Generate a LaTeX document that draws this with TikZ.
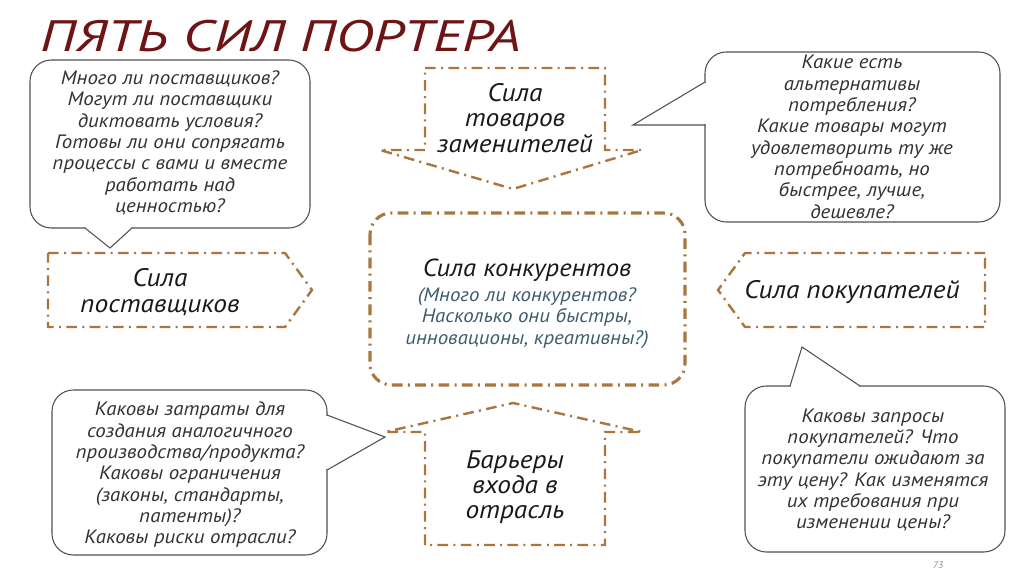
\documentclass[tikz,border=0pt]{standalone}
\usepackage{fontspec}
\setmainfont{PT Sans}
\newfontfamily\bodyfont{PT Sans}[FakeStretch=1.08]
\newfontfamily\titlefont{PT Sans}[FakeStretch=1.3]
\definecolor{dashbrown}{RGB}{168,118,62}
\definecolor{bubgray}{RGB}{80,80,80}
\definecolor{txtgray}{RGB}{50,50,50}
\definecolor{titlered}{RGB}{110,20,20}
\definecolor{subteal}{RGB}{60,92,108}
\tikzset{
  x=0.75pt, y=-0.75pt,
  bubble/.style={draw=bubgray, line width=0.8pt, fill=white, rounded corners=16pt},
  pointer/.style={draw=bubgray, line width=0.8pt},
  forcebox/.style={draw=dashbrown, line width=1.8pt, dash pattern=on 8pt off 4pt on 1.5pt off 4pt, fill=white},
  bubtext/.style={align=center, text=txtgray, font=\bodyfont\fontsize{14.5}{16}\selectfont\itshape},
  forcetext/.style={align=center, text=black!90, font=\bodyfont\fontsize{19}{19}\selectfont\itshape},
}
\begin{document}
\begin{tikzpicture}
\useasboundingbox (0,0) rectangle (1024,574);
% title
\node[anchor=base west, text=titlered, font=\titlefont\fontsize{33}{36}\selectfont\itshape] (title) at (36,52) {ПЯТЬ СИЛ ПОРТЕРА};

% top-left bubble
\draw[bubble] (30,60) rectangle (310,228);
\fill[white] (86,226) rectangle (131,230);
\draw[pointer] (85,228) -- (110,248) -- (132,228);
\node[bubtext] (b1) at (170,143) {Много ли поставщиков?\\Могут ли поставщики\\диктовать условия?\\Готовы ли они сопрягать\\процессы с вами и вместе\\работать над\\ценностью?};

% top-right bubble
\draw[bubble] (705,52) rectangle (1000,222);
\fill[white] (703,83) rectangle (707,124.4);
\draw[pointer] (705,82) -- (633,125) -- (705,125);
\node[bubtext] (b2) at (852,137) {Какие есть\\альтернативы\\потребления?\\Какие товары могут\\удовлетворить ту же\\потребноать, но\\быстрее, лучше,\\дешевле?};

% bottom-left bubble
\draw[bubble] (52,390) rectangle (327,555);
\fill[white] (325,416) rectangle (329,469);
\draw[pointer] (327,415) -- (385,437) -- (327,470);
\node[bubtext] (b3) at (190,475) {Каковы затраты для\\создания аналогичного\\производства/продукта?\\Каковы ограничения\\(законы, стандарты,\\патенты)?\\Каковы риски отрасли?};

% bottom-right bubble
\draw[bubble] (745,386) rectangle (1005,552);
\fill[white] (791,384) rectangle (859,388);
\draw[pointer] (790,386) -- (802,347) -- (860,386);
\node[bubtext] (b4) at (873,470) {Каковы запросы\\покупателей? Что\\покупатели ожидают за\\эту цену? Как изменятся\\их требования при\\изменении цены?};

% top arrow (substitutes)
\draw[forcebox] (425,68) -- (605,68) -- (605,150) -- (642,150) -- (513,189) -- (380,150) -- (425,150) -- cycle;
\node[forcetext] (sub) at (515,118) {Сила\\товаров\\заменителей};

% left arrow (suppliers)
\draw[forcebox] (48,253) -- (285,253) -- (312,290) -- (285,327) -- (48,327) -- cycle;
\node[forcetext] (sup) at (160,292) {Сила\\поставщиков};

% right arrow (buyers)
\draw[forcebox] (985,253) -- (745,253) -- (718,290) -- (745,327) -- (985,327) -- cycle;
\node[forcetext] (buy) at (852,292) {Сила покупателей};

% bottom arrow (entry barriers)
\draw[forcebox] (425,545) -- (425,432) -- (385,432) -- (513,403) -- (642,432) -- (605,432) -- (605,545) -- cycle;
\node[forcetext] (bar) at (515,487) {Барьеры\\входа в\\отрасль};

% center
\draw[forcebox, line width=2.3pt, rounded corners=16pt] (370,213) rectangle (685,385);
\node[forcetext, font=\bodyfont\fontsize{18.5}{19}\selectfont\itshape] (comp) at (527,270) {Сила конкурентов};
\node[align=center, text=subteal, font=\bodyfont\fontsize{14.5}{16}\selectfont\itshape, anchor=north, inner sep=1pt] (compq) at (comp.south) {(Много ли конкурентов?\\Насколько они быстры,\\инновационы, креативны?)};

% page number
\node[text=black!45, font=\bodyfont\fontsize{7}{8}\selectfont\itshape] (pg) at (938,565) {73};
\end{tikzpicture}
\end{document}
